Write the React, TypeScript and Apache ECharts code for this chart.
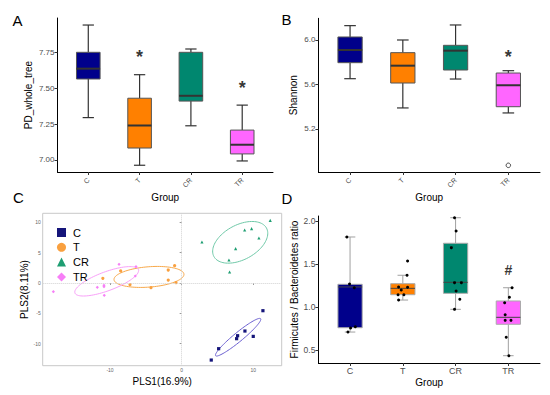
import React, { useEffect, useRef } from 'react';
import * as echarts from 'echarts';

const groups = ['C', 'T', 'CR', 'TR'];
const boxColors = ['#00008B', '#FF8000', '#00876F', '#FF66FF'];
const plsColors = ['#15157A', '#F9A03F', '#1E9E72', '#F77FF7'];
const ellipseColors = ['#6B5FD1', '#F8A94B', '#6FC9A8', '#F9A0F9'];
const plsSymbols = ['rect', 'circle', 'triangle', 'diamond'];

// Panel A: PD_whole_tree (low whisker, Q1, median, Q3, high whisker)
const pdLow = [7.295, 6.963, 7.238, 6.993];
const pdQ1 = [7.564, 7.083, 7.41, 7.042];
const pdMed = [7.636, 7.24, 7.447, 7.106];
const pdQ3 = [7.75, 7.43, 7.75, 7.208];
const pdHigh = [7.94, 7.594, 7.773, 7.382];
const pdTicks = [7.0, 7.25, 7.5, 7.75];
const pdSig: [number, number][] = [[2, 7.743], [4, 7.527]];

// Panel B: Shannon
const shLow = [5.652, 5.389, 5.649, 5.344];
const shQ1 = [5.796, 5.613, 5.73, 5.4];
const shMed = [5.91, 5.769, 5.904, 5.593];
const shQ3 = [6.027, 5.886, 5.952, 5.703];
const shHigh = [6.129, 6.0, 6.135, 5.724];
const shOutliers: [number, number][] = [[4, 4.873]];
const shTicks = [5.2, 5.6, 6.0];
const shSig: [number, number][] = [[4, 5.88]];

// Panel C: PLS-DA scores (PLS1, PLS2)
const plsC: [number, number][] = [[11.34, -4.56], [8.83, -7.91], [7.81, -8.68], [9.99, -8.79], [7.67, -9.17], [5.16, -10.82], [4.13, -12.69]];
const plsT: [number, number][] = [[-0.98, 2.85], [-1.87, 2.14], [-8.51, 1.98], [-11.0, 0.77], [-1.87, 0.49], [-0.79, 0.05], [-7.21, -0.28], [-4.28, -0.77]];
const plsCR: [number, number][] = [[12.36, 10.33], [9.76, 8.95], [8.79, 8.73], [10.78, 7.41], [2.83, 6.75], [7.53, 5.66], [6.6, 3.79], [6.69, 1.81]];
const plsTR: [number, number][] = [[-8.74, 3.08], [-6.37, 2.69], [-6.47, 1.15], [-10.84, -0.39], [-10.84, -0.6], [-11.77, -0.71], [-10.8, -2.03], [-17.9, -1.43]];
// ellipses: centre x, centre y, end of major semi-axis x, y, minor/major ratio
const ellipses: number[][] = [
  [7.88, -8.93, 11.02, -5.88, 0.155],
  [-4.56, 1.0, 0.32, 1.45, 0.29],
  [8.17, 6.7, 11.84, 9.04, 0.58],
  [-10.46, 0.28, -6.03, 2.21, 0.28],
];
const plsXTicks = [-10, 0, 10];
const plsYTicks = [-10, -5, 0, 5, 10];

// Panel D: Firmicutes / Bacteroidetes ratio
const fbLow = [0.709, 1.081, 0.973, 0.434];
const fbQ1 = [0.759, 1.143, 1.159, 0.799];
const fbMed = [1.233, 1.217, 1.287, 0.88];
const fbQ3 = [1.264, 1.271, 1.741, 1.07];
const fbHigh = [1.814, 1.369, 2.038, 1.224];
const fbPoints: [number, number][] = [
  [0.94, 1.814], [0.99, 1.267], [1.08, 1.224], [1.01, 0.756], [1.1, 0.771], [0.96, 0.709],
  [2.09, 1.535], [2.08, 1.369], [1.92, 1.233], [2.09, 1.229], [1.97, 1.198], [1.91, 1.143], [2.02, 1.143], [1.92, 1.081],
  [2.98, 2.038], [3.01, 1.884], [2.92, 1.69], [2.98, 1.283], [3.11, 1.283], [3.01, 1.186], [3.08, 1.09], [2.98, 0.973],
  [4.07, 1.224], [4.02, 1.113], [3.93, 1.05], [3.94, 0.91], [3.94, 0.845], [4.05, 0.845], [3.96, 0.648], [4.01, 0.434],
];
const fbTicks = [0.5, 1.0, 1.5, 2.0];
const fbSig: [number, number][] = [[4, 1.43]];

const FONT = '"Liberation Sans", Arial, sans-serif';

function catXAxis(gridIndex: number, rotate: number, fontSize: number, name: string, nameGap: number, margin: number) {
  return {
    type: 'value', gridIndex, min: 0.4, max: 4.6,
    axisLine: { show: true, onZero: false, lineStyle: { color: '#000', width: 1 } },
    axisTick: { show: true, customValues: [1, 2, 3, 4], length: 3, lineStyle: { color: '#333' } },
    axisLabel: {
      customValues: [1, 2, 3, 4], formatter: (v: number) => groups[Math.round(v) - 1] ?? '',
      rotate, fontSize, color: '#4D4D4D', margin, fontFamily: FONT,
    },
    splitLine: { show: false },
    name, nameLocation: 'middle', nameGap,
    nameTextStyle: { fontSize: 10, color: '#000', fontFamily: FONT },
  };
}

function valYAxis(gridIndex: number, min: number, max: number, ticks: number[], decimals: number, name: string, nameGap: number, fontSize: number) {
  return {
    type: 'value', gridIndex, min, max,
    axisLine: { show: true, onZero: false, lineStyle: { color: '#000', width: 1 } },
    axisTick: { show: true, customValues: ticks, length: 3, lineStyle: { color: '#333' } },
    axisLabel: { customValues: ticks, formatter: (v: number) => v.toFixed(decimals), fontSize, color: '#4D4D4D', margin: 3, fontFamily: FONT },
    splitLine: { show: false },
    name, nameLocation: 'middle', nameGap,
    nameTextStyle: { fontSize: 10, color: '#000', fontFamily: FONT },
  };
}

type BoxOpts = { boxWidth: number; capWidth: number; whisker: string; wLW: number; border: string; bLW: number; median: string; mLW: number };

function boxSeries(axis: number, low: number[], q1: number[], med: number[], q3: number[], high: number[], o: BoxOpts) {
  return {
    type: 'custom', name: 'box' + axis, xAxisIndex: axis, yAxisIndex: axis,
    data: groups.map((_, i) => [i + 1, low[i], q1[i], med[i], q3[i], high[i]]),
    encode: { x: 0, y: [1, 2, 3, 4, 5] },
    z: 2,
    renderItem: (params: any, api: any) => {
      const i = api.value(0);
      const pLo = api.coord([i, api.value(1)]);
      const pQ1 = api.coord([i, api.value(2)]);
      const pMed = api.coord([i, api.value(3)]);
      const pQ3 = api.coord([i, api.value(4)]);
      const pHi = api.coord([i, api.value(5)]);
      const bw = api.size([o.boxWidth, 0])[0];
      const cw = api.size([o.capWidth, 0])[0];
      const x = pMed[0];
      const ws = { stroke: o.whisker, lineWidth: o.wLW };
      return {
        type: 'group',
        children: [
          { type: 'line', shape: { x1: x, y1: pQ3[1], x2: x, y2: pHi[1] }, style: ws },
          { type: 'line', shape: { x1: x, y1: pQ1[1], x2: x, y2: pLo[1] }, style: ws },
          { type: 'line', shape: { x1: x - cw / 2, y1: pHi[1], x2: x + cw / 2, y2: pHi[1] }, style: ws },
          { type: 'line', shape: { x1: x - cw / 2, y1: pLo[1], x2: x + cw / 2, y2: pLo[1] }, style: ws },
          {
            type: 'rect', shape: { x: x - bw / 2, y: pQ3[1], width: bw, height: pQ1[1] - pQ3[1] },
            style: { fill: boxColors[params.dataIndex], stroke: o.border, lineWidth: o.bLW },
          },
          { type: 'line', shape: { x1: x - bw / 2, y1: pMed[1], x2: x + bw / 2, y2: pMed[1] }, style: { stroke: o.median, lineWidth: o.mLW } },
        ],
      };
    },
  };
}

function sigSeries(axis: number, data: [number, number][], text: string, fontSize: number, dy: number) {
  return {
    type: 'scatter', name: 'sig' + axis, xAxisIndex: axis, yAxisIndex: axis, data,
    symbolSize: 1, itemStyle: { color: 'rgba(0,0,0,0)' }, z: 5,
    label: { show: true, formatter: text, position: 'inside', fontSize, fontWeight: 'bold', color: '#000', offset: [0, dy], fontFamily: FONT },
  };
}

export default function App() {
  const ref = useRef<HTMLDivElement>(null);
  useEffect(() => {
    if (!ref.current) return;
    const chart = echarts.init(ref.current, undefined, { renderer: 'svg' });
    const abOpts: BoxOpts = { boxWidth: 0.46, capWidth: 0.22, whisker: '#333333', wLW: 1.2, border: '#555555', bLW: 1, median: '#333333', mLW: 2 };
    const dOpts: BoxOpts = { boxWidth: 0.46, capWidth: 0.2, whisker: '#A0A0A0', wLW: 1, border: '#AAAAAA', bLW: 1, median: '#444444', mLW: 1 };
    const plsSets = [plsC, plsT, plsCR, plsTR];

    const letter = (t: string, x: number, y: number) => ({
      type: 'text', x, y,
      style: { text: t, fontSize: 15, fontFamily: FONT, fill: '#000', verticalAlign: 'middle', textVerticalAlign: 'middle' },
    });

    chart.setOption({
      animation: false,
      backgroundColor: '#fff',
      textStyle: { fontFamily: FONT },
      grid: [
        { left: 57.5, top: 18, width: 215.5, height: 154 },
        { left: 318.4, top: 18.3, width: 221.6, height: 153.7 },
        { left: 42.7, top: 213.3, width: 239, height: 152.4, show: true, borderColor: '#C8C8C8', borderWidth: 1, backgroundColor: 'transparent' },
        { left: 318.4, top: 216, width: 221.6, height: 147 },
      ],
      xAxis: [
        catXAxis(0, 45, 7, 'Group', 20, 7),
        catXAxis(1, 45, 7, 'Group', 20, 7),
        {
          type: 'value', gridIndex: 2, min: -19.39, max: 13.96,
          axisLine: { show: false },
          axisTick: { show: true, customValues: plsXTicks, length: 2, lineStyle: { color: '#999' } },
          axisLabel: { customValues: plsXTicks, fontSize: 5, color: '#666', margin: 2 },
          splitLine: { show: false },
          name: 'PLS1(16.9%)', nameLocation: 'middle', nameGap: 11,
          nameTextStyle: { fontSize: 10, color: '#000', fontFamily: FONT },
        },
        catXAxis(3, 0, 9, 'Group', 14.5, 3),
      ],
      yAxis: [
        valYAxis(0, 6.916, 7.989, pdTicks, 2, 'PD_whole_tree', 24, 8),
        valYAxis(1, 4.813, 6.195, shTicks, 1, 'Shannon', 19.5, 8),
        {
          type: 'value', gridIndex: 2, min: -13.62, max: 11.48,
          axisLine: { show: false },
          axisTick: { show: true, customValues: plsYTicks, length: 2, lineStyle: { color: '#999' } },
          axisLabel: { customValues: plsYTicks, fontSize: 5, color: '#666', margin: 2 },
          splitLine: { show: false },
          name: 'PLS2(8.11%)', nameLocation: 'middle', nameGap: 9.5,
          nameTextStyle: { fontSize: 10, color: '#000', fontFamily: FONT },
        },
        valYAxis(3, 0.349, 2.058, fbTicks, 1, 'Firmicutes / Bacteroidetes ratio', 18.5, 8.5),
      ],
      legend: {
        data: groups.map((g, i) => ({ name: g, icon: plsSymbols[i] })),
        orient: 'vertical', left: 52, top: 222, itemWidth: 9, itemHeight: 9, itemGap: 3.8,
        selectedMode: false,
        textStyle: { fontSize: 11, color: '#000', fontFamily: FONT, padding: [0, 0, 0, 2] },
      },
      graphic: [letter('A', 12.5, 20.5), letter('B', 281.5, 19.2), letter('C', 13, 197.2), letter('D', 281.5, 198)],
      series: [
        boxSeries(0, pdLow, pdQ1, pdMed, pdQ3, pdHigh, abOpts),
        sigSeries(0, pdSig, '*', 18, 4),
        boxSeries(1, shLow, shQ1, shMed, shQ3, shHigh, abOpts),
        {
          type: 'scatter', name: 'outlier', xAxisIndex: 1, yAxisIndex: 1, data: shOutliers,
          symbol: 'circle', symbolSize: 4.5, z: 4,
          itemStyle: { color: '#ffffff', borderColor: '#444444', borderWidth: 1, opacity: 1 },
        },
        sigSeries(1, shSig, '*', 18, 4),
        {
          type: 'custom', name: 'ellipses', xAxisIndex: 2, yAxisIndex: 2, data: ellipses,
          encode: { x: [0, 2], y: [1, 3] }, z: 1,
          renderItem: (params: any, api: any) => {
            const c = api.coord([api.value(0), api.value(1)]);
            const e = api.coord([api.value(2), api.value(3)]);
            const r = api.value(4);
            const vx = e[0] - c[0], vy = e[1] - c[1];
            const ux = -vy * r, uy = vx * r;
            const pts: number[][] = [];
            for (let k = 0; k < 96; k++) {
              const t = (2 * Math.PI * k) / 96;
              pts.push([c[0] + vx * Math.cos(t) + ux * Math.sin(t), c[1] + vy * Math.cos(t) + uy * Math.sin(t)]);
            }
            return { type: 'polygon', shape: { points: pts }, style: { fill: 'none', stroke: ellipseColors[params.dataIndex], lineWidth: 1 } };
          },
        },
        ...groups.map((g, i) => ({
          type: 'scatter', name: g, xAxisIndex: 2, yAxisIndex: 2, data: plsSets[i],
          symbol: plsSymbols[i], symbolSize: 3.2, itemStyle: { color: plsColors[i], opacity: 1 }, z: 3,
          ...(i === 0 ? {
            markLine: {
              silent: true, symbol: 'none', label: { show: false },
              lineStyle: { type: 'dotted', color: '#D0D0D0', width: 1 },
              data: [{ xAxis: 0 }, { yAxis: 0 }],
            },
          } : {}),
        })),
        boxSeries(3, fbLow, fbQ1, fbMed, fbQ3, fbHigh, dOpts),
        {
          type: 'scatter', name: 'fbPoints', xAxisIndex: 3, yAxisIndex: 3, data: fbPoints,
          symbol: 'circle', symbolSize: 3, itemStyle: { color: '#000', opacity: 1 }, z: 4,
        },
        sigSeries(3, fbSig, '#', 14, 0),
      ],
    });
    return () => chart.dispose();
  }, []);
  return <div ref={ref} style={{ position: 'absolute', left: 0, top: 0, width: 550, height: 395 }} />;
}
